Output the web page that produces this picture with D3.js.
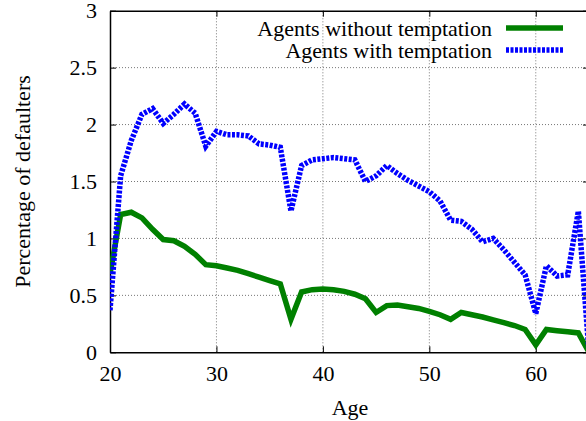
<!DOCTYPE html>
<html>
  <head>
    <meta charset="utf-8">
    <title>Defaulters by age</title>
    <script src="https://d3js.org/d3.v7.min.js"></script>
    <style>
      body { margin: 0; background: #fff; }
      svg { display: block; }
      .grid line { stroke: #777; stroke-width: 1; stroke-dasharray: 1,2; }
    </style>
  </head>
  <body>
    <div id="chart"></div>
    <script>
      // data
      var ages = d3.range(20, 66);
      var withoutTemptation = [
        0.69, 1.21, 1.23, 1.18, 1.08, 0.99, 0.98, 0.93, 0.86, 0.77,
        0.76, 0.74, 0.72, 0.69, 0.66, 0.63, 0.60, 0.29, 0.53, 0.55,
        0.555, 0.55, 0.535, 0.51, 0.47, 0.35, 0.41, 0.415, 0.40, 0.385,
        0.36, 0.33, 0.29, 0.35, 0.33, 0.31, 0.285, 0.26, 0.235, 0.20,
        0.065, 0.20, 0.19, 0.18, 0.17, 0.0
      ];
      var withTemptation = [
        0.37, 1.55, 1.86, 2.09, 2.14, 2.01, 2.09, 2.18, 2.10, 1.81,
        1.94, 1.91, 1.91, 1.90, 1.83, 1.82, 1.80, 1.24, 1.64, 1.69,
        1.70, 1.71, 1.70, 1.69, 1.50, 1.55, 1.64, 1.57, 1.51, 1.46,
        1.41, 1.33, 1.16, 1.15, 1.08, 0.97, 1.00, 0.90, 0.79, 0.68,
        0.34, 0.76, 0.67, 0.68, 1.24, 0.0
      ];
      var xTicks = [20, 30, 40, 50, 60];
      var yTicks = [0, 0.5, 1, 1.5, 2, 2.5, 3];
      var seriesNames = ["Agents without temptation", "Agents with temptation"];

      var width = 586, height = 421;
      var margin = {top: 10.7, left: 110, bottom: 68.7};
      var plotRight = 589;
      var serif = "'Liberation Serif'";
      var fontSize = 22;

      var svg = d3.select("#chart").append("svg")
        .attr("width", width)
        .attr("height", height);

      var x = d3.scaleLinear().domain([20, 65]).range([margin.left, plotRight]);
      var y = d3.scaleLinear().domain([0, 3]).range([height - margin.bottom, margin.top]);

      svg.append("clipPath").attr("id", "clip")
        .append("rect")
          .attr("x", margin.left).attr("y", margin.top)
          .attr("width", plotRight - margin.left)
          .attr("height", y(0) - margin.top);

      // grid
      var grid = svg.append("g").attr("class", "grid");
      grid.selectAll(".gx")
          .data(xTicks.filter(function(d) { return d > 20; }))
        .enter().append("line")
          .attr("x1", function(d) { return x(d); })
          .attr("x2", function(d) { return x(d); })
          .attr("y1", y(0)).attr("y2", y(3));
      grid.selectAll(".gy")
          .data(yTicks.filter(function(d) { return d > 0 && d < 3; }))
        .enter().append("line")
          .attr("x1", x(20)).attr("x2", plotRight)
          .attr("y1", function(d) { return y(d); })
          .attr("y2", function(d) { return y(d); });

      // axes (gnuplot style: inward ticks on all borders)
      var xAxis = d3.axisBottom(x).tickValues(xTicks).tickSizeInner(-6).tickSizeOuter(0).tickPadding(13);
      var xTop = d3.axisTop(x).tickValues(xTicks).tickSizeInner(-6).tickSizeOuter(0).tickFormat("");
      var yAxis = d3.axisLeft(y).tickValues(yTicks).tickSizeInner(-6).tickSizeOuter(0).tickPadding(13)
        .tickFormat(d3.format("~g"));
      var yRight = d3.axisRight(y).tickValues(yTicks).tickSizeInner(-6).tickSizeOuter(0).tickFormat("");

      function styleAxis(g) {
        g.attr("font-family", null).attr("font-size", null);
        g.selectAll("path").attr("stroke", "#000").attr("stroke-width", 1.5);
        g.selectAll("line").attr("stroke", "#000");
        g.selectAll("text")
          .style("font-family", serif)
          .style("font-size", fontSize + "px");
      }

      svg.append("g").attr("transform", "translate(0," + y(0) + ")").call(xAxis).call(styleAxis);
      svg.append("g").attr("transform", "translate(0," + y(3) + ")").call(xTop).call(styleAxis);
      svg.append("g").attr("transform", "translate(" + x(20) + ",0)").call(yAxis).call(styleAxis);
      svg.append("g").attr("transform", "translate(" + plotRight + ",0)").call(yRight).call(styleAxis);

      // lines
      var line = d3.line()
        .x(function(d, i) { return x(ages[i]); })
        .y(function(d) { return y(d); });

      var plot = svg.append("g").attr("clip-path", "url(#clip)");
      plot.append("path")
        .datum(withoutTemptation)
        .attr("fill", "none")
        .attr("stroke", "#008000")
        .attr("stroke-width", 5.5)
        .attr("d", line);
      plot.append("path")
        .datum(withTemptation)
        .attr("fill", "none")
        .attr("stroke", "#0000ff")
        .attr("stroke-width", 5.5)
        .attr("stroke-dasharray", "3,1.5")
        .attr("d", line);

      // legend
      var legend = svg.append("g");
      var legendY = [28, 50];
      legend.selectAll("text")
          .data(seriesNames)
        .enter().append("text")
          .attr("x", 492)
          .attr("y", function(d, i) { return legendY[i]; })
          .attr("dy", "0.35em")
          .attr("text-anchor", "end")
          .style("font-family", serif)
          .style("font-size", fontSize + "px")
          .text(function(d) { return d; });
      legend.append("line")
        .attr("x1", 506).attr("x2", 563)
        .attr("y1", legendY[0]).attr("y2", legendY[0])
        .attr("stroke", "#008000").attr("stroke-width", 5.5);
      legend.append("line")
        .attr("x1", 506).attr("x2", 563)
        .attr("y1", legendY[1]).attr("y2", legendY[1])
        .attr("stroke", "#0000ff").attr("stroke-width", 5.5)
        .attr("stroke-dasharray", "3,1.5");

      // axis titles
      svg.append("text")
        .attr("x", 350).attr("y", 407)
        .attr("dy", "0.35em")
        .attr("text-anchor", "middle")
        .style("font-family", serif)
        .style("font-size", fontSize + "px")
        .text("Age");
      svg.append("text")
        .attr("transform", "translate(22," + ((y(0) + y(3)) / 2) + ") rotate(-90)")
        .attr("dy", "0.35em")
        .attr("text-anchor", "middle")
        .style("font-family", serif)
        .style("font-size", fontSize + "px")
        .text("Percentage of defaulters");
    </script>
  </body>
</html>
